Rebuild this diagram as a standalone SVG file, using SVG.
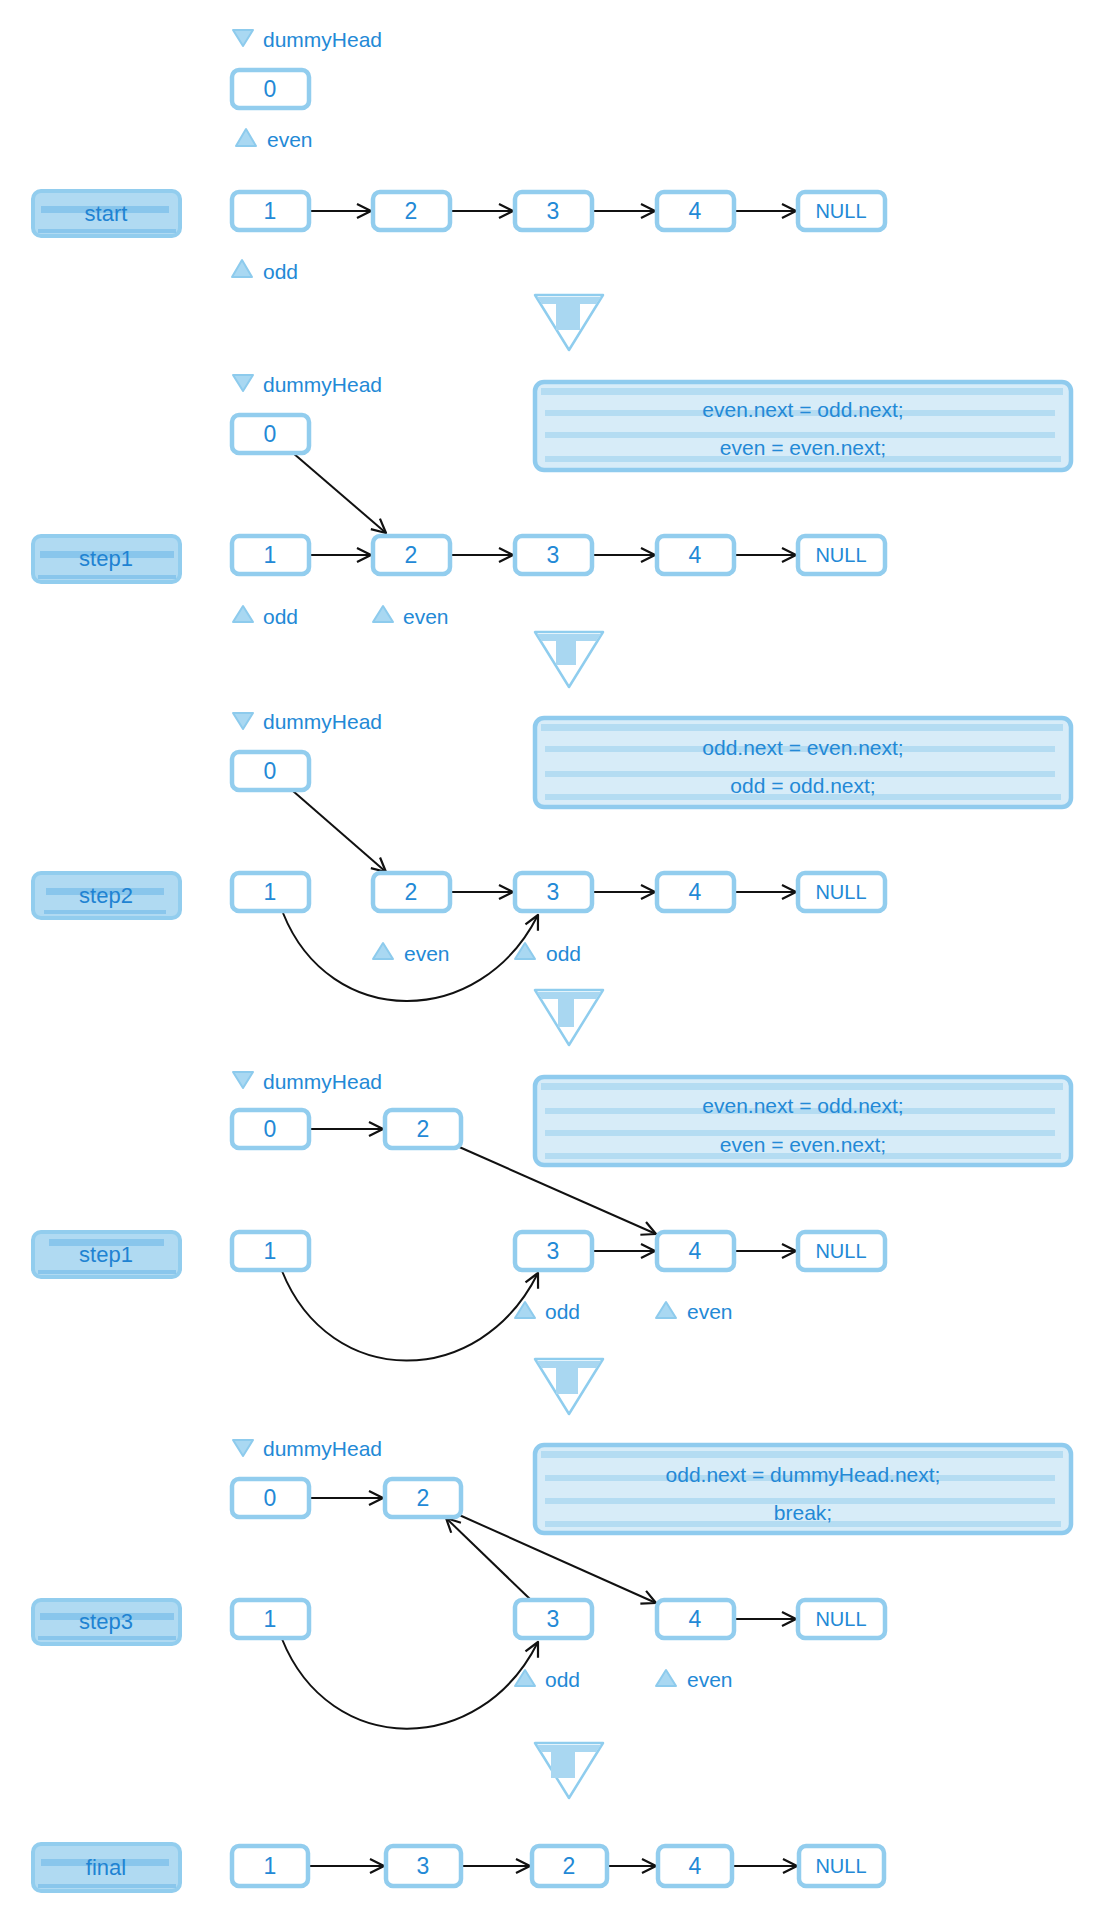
<svg xmlns="http://www.w3.org/2000/svg" width="1104" height="1924" viewBox="0 0 1104 1924">
<defs>
<style>
.node{fill:#fff;stroke:#92cdee;stroke-width:4.5}
.t{font-family:"Liberation Sans",Arial,sans-serif;fill:#2389d6}
.nt{font-size:23px;text-anchor:middle}
.nl{font-size:20px;text-anchor:middle}
.pt{font-size:21px}
.ct{font-size:21px;text-anchor:middle}
.lbl-out{fill:#b0daf2;stroke:#92cdee;stroke-width:4}
.lbl-stripe{fill:#7fc1ea;opacity:.8}
.lt{font-size:22px;text-anchor:middle;fill:#1f83d2}
.ptr{fill:#a9d8f2;stroke:#8dcbed;stroke-width:2;stroke-linejoin:round}
.code{fill:#d7ecf8;stroke:#8fcbee;stroke-width:4.5}
.band{fill:#b4dcf2}
.tri{fill:#fff;stroke:#8fcdee;stroke-width:2.5;stroke-linejoin:round}
.trifill{fill:#a9d7f1}
.c{fill:none;stroke:#111;stroke-width:2;marker-end:url(#ah)}
</style>
<marker id="ah" markerUnits="userSpaceOnUse" markerWidth="18" markerHeight="18" viewBox="0 0 18 18" refX="15" refY="9" orient="auto">
<path d="M1,2 L15,9 L1,16" fill="none" stroke="#111" stroke-width="2.2" stroke-linejoin="round"/>
</marker>
</defs>
<rect width="1104" height="1924" fill="#fff"/>

<!-- step labels -->
<g id="lbl-start"><rect x="33" y="191" width="147" height="45" rx="8" class="lbl-out"/><rect x="41" y="206" width="128" height="7" class="lbl-stripe"/><rect x="38" y="229" width="138" height="4" class="lbl-stripe"/><text x="106" y="221" class="t lt">start</text></g>
<g id="lbl-step1a"><rect x="33" y="536" width="147" height="46" rx="8" class="lbl-out"/><rect x="40" y="551" width="134" height="7" class="lbl-stripe"/><rect x="38" y="575" width="138" height="4" class="lbl-stripe"/><text x="106" y="566" class="t lt">step1</text></g>
<g id="lbl-step2"><rect x="33" y="873" width="147" height="45" rx="8" class="lbl-out"/><rect x="46" y="888" width="118" height="7" class="lbl-stripe"/><rect x="44" y="910" width="122" height="4" class="lbl-stripe"/><text x="106" y="903" class="t lt">step2</text></g>
<g id="lbl-step1b"><rect x="33" y="1232" width="147" height="45" rx="8" class="lbl-out"/><rect x="49" y="1239" width="115" height="7" class="lbl-stripe"/><rect x="38" y="1270" width="138" height="4" class="lbl-stripe"/><text x="106" y="1262" class="t lt">step1</text></g>
<g id="lbl-step3"><rect x="33" y="1600" width="147" height="44" rx="8" class="lbl-out"/><rect x="40" y="1613" width="134" height="7" class="lbl-stripe"/><rect x="38" y="1636" width="138" height="4" class="lbl-stripe"/><text x="106" y="1629" class="t lt">step3</text></g>
<g id="lbl-final"><rect x="33" y="1844" width="147" height="47" rx="8" class="lbl-out"/><rect x="41" y="1859" width="128" height="7" class="lbl-stripe"/><rect x="38" y="1884" width="138" height="4" class="lbl-stripe"/><text x="106" y="1875" class="t lt">final</text></g>

<!-- transition triangles -->
<g id="tri1"><polygon points="535,295 603,295 569,350" class="tri"/><polygon points="537,297 601,297 596,304 542,304" class="trifill"/><rect x="556" y="300" width="24" height="30" class="trifill"/></g>
<g id="tri2"><polygon points="535,632 603,632 569,687" class="tri"/><polygon points="537,634 601,634 596,641 542,641" class="trifill"/><rect x="556" y="637" width="20" height="28" class="trifill"/></g>
<g id="tri3"><polygon points="535,990 603,990 569,1045" class="tri"/><polygon points="537,992 601,992 596,999 542,999" class="trifill"/><rect x="558" y="995" width="16" height="32" class="trifill"/></g>
<g id="tri4"><polygon points="535,1359 603,1359 569,1414" class="tri"/><polygon points="537,1361 601,1361 596,1368 542,1368" class="trifill"/><rect x="556" y="1364" width="22" height="30" class="trifill"/></g>
<g id="tri5"><polygon points="535,1743 603,1743 569,1798" class="tri"/><polygon points="537,1745 601,1745 596,1752 542,1752" class="trifill"/><rect x="551" y="1748" width="24" height="30" class="trifill"/></g>

<!-- code boxes -->
<g id="code1"><rect x="535" y="382" width="536" height="88" rx="9" class="code"/><rect x="541" y="388" width="522" height="7" class="band"/><rect x="545" y="410" width="510" height="6" class="band"/><rect x="545" y="432" width="510" height="6" class="band"/><rect x="545" y="456" width="516" height="6" class="band"/><text x="803" y="417" class="t ct">even.next = odd.next;</text><text x="803" y="455" class="t ct">even = even.next;</text></g>
<g id="code2"><rect x="535" y="718" width="536" height="89" rx="9" class="code"/><rect x="541" y="724" width="522" height="7" class="band"/><rect x="545" y="746" width="510" height="6" class="band"/><rect x="545" y="771" width="510" height="6" class="band"/><rect x="545" y="794" width="516" height="6" class="band"/><text x="803" y="755" class="t ct">odd.next = even.next;</text><text x="803" y="793" class="t ct">odd = odd.next;</text></g>
<g id="code3"><rect x="535" y="1077" width="536" height="88" rx="9" class="code"/><rect x="541" y="1083" width="522" height="7" class="band"/><rect x="545" y="1108" width="510" height="6" class="band"/><rect x="545" y="1130" width="510" height="6" class="band"/><rect x="545" y="1153" width="516" height="6" class="band"/><text x="803" y="1113" class="t ct">even.next = odd.next;</text><text x="803" y="1152" class="t ct">even = even.next;</text></g>
<g id="code4"><rect x="535" y="1445" width="536" height="88" rx="9" class="code"/><rect x="541" y="1451" width="522" height="7" class="band"/><rect x="545" y="1475" width="510" height="6" class="band"/><rect x="545" y="1498" width="510" height="6" class="band"/><rect x="545" y="1521" width="516" height="6" class="band"/><text x="803" y="1482" class="t ct">odd.next = dummyHead.next;</text><text x="803" y="1520" class="t ct">break;</text></g>

<!-- pointer labels -->
<g id="ptr-s1"><polygon points="233,30 253,30 243,46" class="ptr"/><text x="263" y="47" class="t pt">dummyHead</text>
<polygon points="236,146 256,146 246,129" class="ptr"/><text x="267" y="147" class="t pt">even</text>
<polygon points="232,277 252,277 242,260" class="ptr"/><text x="263" y="279" class="t pt">odd</text></g>
<g id="ptr-s2"><polygon points="233,375 253,375 243,391" class="ptr"/><text x="263" y="392" class="t pt">dummyHead</text>
<polygon points="233,622 253,622 243,606" class="ptr"/><text x="263" y="624" class="t pt">odd</text>
<polygon points="373,622 393,622 383,606" class="ptr"/><text x="403" y="624" class="t pt">even</text></g>
<g id="ptr-s3"><polygon points="233,713 253,713 243,729" class="ptr"/><text x="263" y="729" class="t pt">dummyHead</text>
<polygon points="373,959 393,959 383,943" class="ptr"/><text x="404" y="961" class="t pt">even</text>
<polygon points="515,959 535,959 525,943" class="ptr"/><text x="546" y="961" class="t pt">odd</text></g>
<g id="ptr-s4"><polygon points="233,1072 253,1072 243,1088" class="ptr"/><text x="263" y="1089" class="t pt">dummyHead</text>
<polygon points="515,1318 535,1318 525,1302" class="ptr"/><text x="545" y="1319" class="t pt">odd</text>
<polygon points="656,1318 676,1318 666,1302" class="ptr"/><text x="687" y="1319" class="t pt">even</text></g>
<g id="ptr-s5"><polygon points="233,1440 253,1440 243,1456" class="ptr"/><text x="263" y="1456" class="t pt">dummyHead</text>
<polygon points="515,1686 535,1686 525,1670" class="ptr"/><text x="545" y="1687" class="t pt">odd</text>
<polygon points="656,1686 676,1686 666,1670" class="ptr"/><text x="687" y="1687" class="t pt">even</text></g>

<!-- connectors -->
<g id="connectors">
<path class="c" d="M310,211 H371"/><path class="c" d="M451,211 H513"/><path class="c" d="M593,211 H655"/><path class="c" d="M735,211 H796"/>
<path class="c" d="M293,453 L386,533"/>
<path class="c" d="M310,555 H371"/><path class="c" d="M451,555 H513"/><path class="c" d="M593,555 H655"/><path class="c" d="M735,555 H796"/>
<path class="c" d="M293,791 L386,872"/>
<path class="c" d="M451,892 H513"/><path class="c" d="M593,892 H655"/><path class="c" d="M735,892 H796"/>
<path class="c" d="M283,913 C330,1030 480,1030 538,915"/>
<path class="c" d="M310,1129 H383"/>
<path class="c" d="M457,1146 L656,1234"/>
<path class="c" d="M593,1251 H655"/><path class="c" d="M735,1251 H796"/>
<path class="c" d="M282,1271 C330,1390 480,1390 538,1273"/>
<path class="c" d="M310,1498 H383"/>
<path class="c" d="M531,1600 L446,1518"/>
<path class="c" d="M457,1514 L656,1603"/>
<path class="c" d="M735,1619 H796"/>
<path class="c" d="M282,1639 C330,1758 480,1758 538,1642"/>
<path class="c" d="M309,1866 H384"/><path class="c" d="M462,1866 H530"/><path class="c" d="M608,1866 H656"/><path class="c" d="M733,1866 H797"/>
</g>

<!-- section 1 nodes -->
<g id="s1-n0"><rect x="232" y="70" width="77" height="38" rx="7" class="node"/><text x="270" y="97" class="t nt">0</text></g>
<g id="s1-n1"><rect x="232" y="192" width="77" height="38" rx="7" class="node"/><text x="270" y="219" class="t nt">1</text></g>
<g id="s1-n2"><rect x="373" y="192" width="77" height="38" rx="7" class="node"/><text x="411" y="219" class="t nt">2</text></g>
<g id="s1-n3"><rect x="515" y="192" width="77" height="38" rx="7" class="node"/><text x="553" y="219" class="t nt">3</text></g>
<g id="s1-n4"><rect x="657" y="192" width="77" height="38" rx="7" class="node"/><text x="695" y="219" class="t nt">4</text></g>
<g id="s1-null"><rect x="798" y="192" width="87" height="38" rx="7" class="node"/><text x="841" y="218" class="t nl">NULL</text></g>

<!-- section 2 nodes -->
<g id="s2-n0"><rect x="232" y="415" width="77" height="38" rx="7" class="node"/><text x="270" y="442" class="t nt">0</text></g>
<g id="s2-n1"><rect x="232" y="536" width="77" height="38" rx="7" class="node"/><text x="270" y="563" class="t nt">1</text></g>
<g id="s2-n2"><rect x="373" y="536" width="77" height="38" rx="7" class="node"/><text x="411" y="563" class="t nt">2</text></g>
<g id="s2-n3"><rect x="515" y="536" width="77" height="38" rx="7" class="node"/><text x="553" y="563" class="t nt">3</text></g>
<g id="s2-n4"><rect x="657" y="536" width="77" height="38" rx="7" class="node"/><text x="695" y="563" class="t nt">4</text></g>
<g id="s2-null"><rect x="798" y="536" width="87" height="38" rx="7" class="node"/><text x="841" y="562" class="t nl">NULL</text></g>

<!-- section 3 nodes -->
<g id="s3-n0"><rect x="232" y="752" width="77" height="38" rx="7" class="node"/><text x="270" y="779" class="t nt">0</text></g>
<g id="s3-n1"><rect x="232" y="873" width="77" height="38" rx="7" class="node"/><text x="270" y="900" class="t nt">1</text></g>
<g id="s3-n2"><rect x="373" y="873" width="77" height="38" rx="7" class="node"/><text x="411" y="900" class="t nt">2</text></g>
<g id="s3-n3"><rect x="515" y="873" width="77" height="38" rx="7" class="node"/><text x="553" y="900" class="t nt">3</text></g>
<g id="s3-n4"><rect x="657" y="873" width="77" height="38" rx="7" class="node"/><text x="695" y="900" class="t nt">4</text></g>
<g id="s3-null"><rect x="798" y="873" width="87" height="38" rx="7" class="node"/><text x="841" y="899" class="t nl">NULL</text></g>

<!-- section 4 nodes -->
<g id="s4-n0"><rect x="232" y="1110" width="77" height="38" rx="7" class="node"/><text x="270" y="1137" class="t nt">0</text></g>
<g id="s4-n2"><rect x="385" y="1110" width="76" height="38" rx="7" class="node"/><text x="423" y="1137" class="t nt">2</text></g>
<g id="s4-n1"><rect x="232" y="1232" width="77" height="38" rx="7" class="node"/><text x="270" y="1259" class="t nt">1</text></g>
<g id="s4-n3"><rect x="515" y="1232" width="77" height="38" rx="7" class="node"/><text x="553" y="1259" class="t nt">3</text></g>
<g id="s4-n4"><rect x="657" y="1232" width="77" height="38" rx="7" class="node"/><text x="695" y="1259" class="t nt">4</text></g>
<g id="s4-null"><rect x="798" y="1232" width="87" height="38" rx="7" class="node"/><text x="841" y="1258" class="t nl">NULL</text></g>

<!-- section 5 nodes -->
<g id="s5-n0"><rect x="232" y="1479" width="77" height="38" rx="7" class="node"/><text x="270" y="1506" class="t nt">0</text></g>
<g id="s5-n2"><rect x="385" y="1479" width="76" height="38" rx="7" class="node"/><text x="423" y="1506" class="t nt">2</text></g>
<g id="s5-n1"><rect x="232" y="1600" width="77" height="38" rx="7" class="node"/><text x="270" y="1627" class="t nt">1</text></g>
<g id="s5-n3"><rect x="515" y="1600" width="77" height="38" rx="7" class="node"/><text x="553" y="1627" class="t nt">3</text></g>
<g id="s5-n4"><rect x="657" y="1600" width="77" height="38" rx="7" class="node"/><text x="695" y="1627" class="t nt">4</text></g>
<g id="s5-null"><rect x="798" y="1600" width="87" height="38" rx="7" class="node"/><text x="841" y="1626" class="t nl">NULL</text></g>

<!-- final nodes -->
<g id="f-n1"><rect x="232" y="1846" width="76" height="40" rx="7" class="node"/><text x="270" y="1874" class="t nt">1</text></g>
<g id="f-n3"><rect x="386" y="1846" width="75" height="40" rx="7" class="node"/><text x="423" y="1874" class="t nt">3</text></g>
<g id="f-n2"><rect x="532" y="1846" width="75" height="40" rx="7" class="node"/><text x="569" y="1874" class="t nt">2</text></g>
<g id="f-n4"><rect x="658" y="1846" width="74" height="40" rx="7" class="node"/><text x="695" y="1874" class="t nt">4</text></g>
<g id="f-null"><rect x="799" y="1846" width="85" height="40" rx="7" class="node"/><text x="841" y="1873" class="t nl">NULL</text></g>
</svg>
